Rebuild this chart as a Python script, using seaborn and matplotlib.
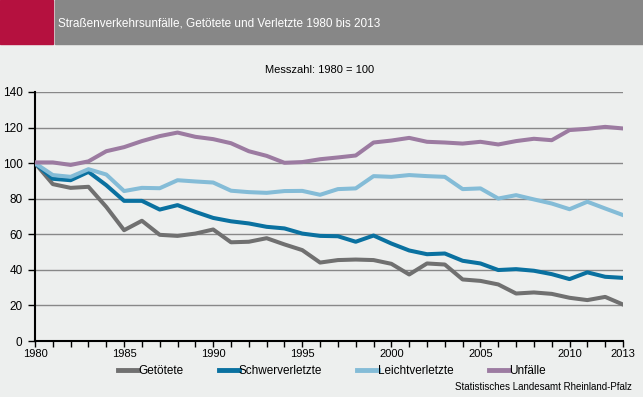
import matplotlib.pyplot as plt
import matplotlib.patches as mpatches
import numpy as np
import pandas as pd
import seaborn as sns

years = list(range(1980, 2014))

getoetete = [100, 88.2, 86.1, 86.7, 75.4, 62.3, 67.6, 59.7, 59.1, 60.4, 62.7,
             55.5, 55.8, 57.8, 54.3, 51.1, 44.1, 45.5, 45.8, 45.5, 43.4,
             37.4, 43.6, 43.0, 34.6, 33.8, 31.8, 26.7, 27.3, 26.5, 24.3,
             23.0, 24.8, 20.5]
schwerverletzte = [100, 91.2, 90.4, 95.1, 87.6, 78.8, 78.8, 73.9, 76.4, 72.6, 69.2,
                   67.3, 66.1, 64.2, 63.3, 60.4, 59.1, 58.9, 55.8, 59.3, 54.8,
                   50.9, 48.8, 49.2, 45.1, 43.6, 39.9, 40.4, 39.5, 37.6, 34.8,
                   38.6, 36.1, 35.5]
leichtverletzte = [100, 93.3, 92.3, 96.6, 93.6, 84.3, 86.1, 85.9, 90.4, 89.7, 89.1,
                   84.5, 83.7, 83.3, 84.3, 84.4, 82.2, 85.4, 85.8, 92.7, 92.3,
                   93.3, 92.7, 92.3, 85.4, 85.8, 80.1, 82.0, 79.6, 77.3, 74.1,
                   78.3, 74.5, 70.8]
unfaelle = [100.4, 100.4, 99.0, 101.0, 106.7, 109.0, 112.4, 115.2, 117.2, 114.8, 113.5,
            111.2, 106.7, 104.1, 100.2, 100.6, 102.2, 103.2, 104.3, 111.6, 112.7,
            114.2, 112.0, 111.6, 111.0, 112.0, 110.5, 112.4, 113.7, 112.9, 118.6,
            119.3, 120.4, 119.5]

series = ['Getötete', 'Schwerverletzte', 'Leichtverletzte', 'Unfälle']
colors = ['#707070', '#0A71A0', '#84BCD7', '#9C7BA1']
year_labels = [1980, 1985, 1990, 1995, 2000, 2005, 2010, 2013]

df = pd.DataFrame({
    'Jahr': years * 4,
    'Wert': getoetete + schwerverletzte + leichtverletzte + unfaelle,
    'Reihe': np.repeat(series, len(years)),
})

bg = '#EDEFEE'
plt.rcParams['font.family'] = ['Liberation Sans', 'DejaVu Sans']

fig = plt.figure(figsize=(6.43, 3.97), dpi=100, facecolor=bg)
ax = fig.add_axes([35 / 643, 1 - 341 / 397, 588 / 643, 249 / 397])
ax.set_facecolor(bg)

# header band
fig.patches.append(mpatches.Rectangle((0, 1 - 44 / 397), 53 / 643, 44 / 397,
                                      transform=fig.transFigure, color='#B5113F', zorder=0))
fig.patches.append(mpatches.Rectangle((55 / 643, 1 - 44 / 397), 1, 44 / 397,
                                      transform=fig.transFigure, color='#878787', zorder=0))
fig.text(58 / 643, 1 - 23 / 397, 'Straßenverkehrsunfälle, Getötete und Verletzte 1980 bis 2013',
         color='white', fontsize=8.5, va='center', ha='left')
fig.text(320 / 643, 1 - 70 / 397, 'Messzahl: 1980 = 100', fontsize=8, ha='center', va='center')

for y in range(20, 141, 20):
    ax.axhline(y, color='#888888', linewidth=1.0, zorder=1)

sns.lineplot(data=df, x='Jahr', y='Wert', hue='Reihe', hue_order=series,
             palette=colors, linewidth=2.9, ax=ax, legend=False, zorder=3)

ax.set_xlim(1980, 2013)
ax.set_ylim(0, 140)
ax.set_xticks(years)
ax.set_xticklabels([str(y) if y in year_labels else '' for y in years])
ax.set_yticks(range(0, 141, 20))
ax.tick_params(axis='x', length=4, width=1, labelsize=8, pad=2)
ax.tick_params(axis='y', length=5, width=1, labelsize=8.5, pad=4)
ax.set_xlabel('')
ax.set_ylabel('')
for side in ['top', 'right']:
    ax.spines[side].set_visible(False)
ax.spines['left'].set_linewidth(1.5)
ax.spines['bottom'].set_linewidth(1.5)

handles = [plt.Line2D([], [], color=c, linewidth=3.5) for c in colors]
fig.legend(handles, series, loc='center left', bbox_to_anchor=(118 / 643, 1 - 371 / 397),
           ncol=4, frameon=False, fontsize=8.5, handlelength=1.7, handletextpad=0.0,
           columnspacing=3.0, borderpad=0, borderaxespad=0)

fig.text(632 / 643, 1 - 387 / 397, 'Statistisches Landesamt Rheinland-Pfalz',
         fontsize=7, ha='right', va='center')

plt.savefig('out.png', dpi=100, facecolor=bg)
